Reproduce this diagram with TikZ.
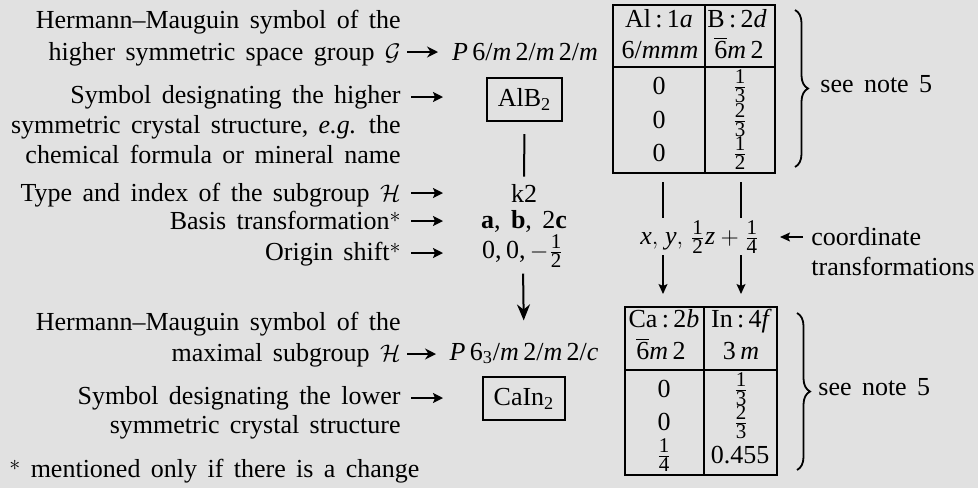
\documentclass[tikz,border=0pt]{standalone}
\usepackage{fontspec}
\setmainfont[WordSpace=1.6]{Liberation Serif}
\usetikzlibrary{arrows.meta,decorations.pathreplacing,calc}
\definecolor{bg}{RGB}{225,225,225}
\newcommand{\frd}[1]{\mbox{\fontsize{10.5}{10.5}\selectfont #1}}
\newcommand{\fr}[2]{\ensuremath{\frac{\frd{#1}}{\frd{#2}}}}
\newcommand{\sixbar}{\ensuremath{\overline{\mbox{6}}}}
\newcommand{\myast}{\raisebox{3.5pt}{\fontsize{11}{11}\selectfont$\ast$}}
\begin{document}
\begin{tikzpicture}[x=0.5pt,y=-0.5pt,
  every node/.style={inner sep=0pt, font=\fontsize{13}{15.6}\selectfont},
  lab/.style={anchor=base east},
  ctr/.style={anchor=base},
  lft/.style={anchor=base west},
  tbl/.style={line width=1pt},
  strbox/.style={draw, line width=1.1pt, minimum height=21.5pt},
  larr/.style={line width=0.8pt, -{Stealth[length=5pt,width=5pt,inset=1pt]}},
  sarr/.style={line width=0.9pt, -{Stealth[length=5.5pt,width=5.5pt]}},
  darr/.style={line width=1pt, -{Stealth[length=8pt,width=6.5pt]}},
  tarr/.style={line width=0.6pt, -{Stealth[length=5pt,width=4.5pt,inset=1pt]}},
  tline/.style={line width=0.6pt},
  brc/.style={line width=0.9pt, decorate, decoration={brace, amplitude=6.5pt}}]
\fill[bg] (0,0) rectangle (978,488);
\useasboundingbox (0,0) rectangle (978,488);

% left labels
\node[lab] (h1) at (401,28) {Hermann--Mauguin symbol of the};
\node[lab] (h2) at (401,60) {higher symmetric space group $\mathcal{G}$};
\node[lab] (s1) at (401,103) {Symbol designating the higher};
\node[lab] (s2) at (401,133) {symmetric crystal structure, \textit{e.g.} the};
\node[lab] (s3) at (401,163) {chemical formula or mineral name};
\node[lab] (ty) at (401,201) {Type and index of the subgroup $\mathcal{H}$};
\node[lab] (ba) at (401,229) {Basis transformation\myast};
\node[lab] (or) at (401,260) {Origin shift\myast};
\node[lab] (m1) at (401,330) {Hermann--Mauguin symbol of the};
\node[lab] (m2) at (401,361) {maximal subgroup $\mathcal{H}$};
\node[lab] (l1) at (401,404) {Symbol designating the lower};
\node[lab] (l2) at (401,433) {symmetric crystal structure};
\node[lft] (fn) at (9,477) {\myast{} mentioned only if there is a change};

% middle column
\node[ctr] (G) at (525,60) {\textit{P}\,6/\textit{m}\,2/\textit{m}\,2/\textit{m}};
\node[strbox, minimum width=37.5pt] (alb) at (524.5,99.5) {AlB\textsubscript{2}};
\node[ctr] (k2) at (524,202) {k2};
\node[ctr] (bt) at (524,228) {\textbf{a}, \textbf{b}, 2\textbf{c}};
\node[ctr] (os) at (523,258) {0,\,0,\,$-$\fr{1}{2}};
\node[ctr] (H) at (524,360) {\textit{P}\,6\textsubscript{3}/\textit{m}\,2/\textit{m}\,2/\textit{c}};
\node[strbox, minimum width=41pt] (cai) at (524,398.5) {CaIn\textsubscript{2}};

% left arrows
\draw[sarr] ($(h2.base east)+(6,-8)$) -- ++(31,0);
\draw[larr] ($(s1.base east)+(10,-6)$) -- ++(32,0);
\draw[larr] ($(ty.base east)+(10,-8)$) -- ++(32,0);
\draw[larr] ($(ba.base east)+(10,-8)$) -- ++(32,0);
\draw[larr] ($(or.base east)+(10,-7)$) -- ++(32,0);
\draw[sarr] ($(m2.base east)+(6,-7)$) -- ++(29,0);
\draw[larr] ($(l1.base east)+(10,-6)$) -- ++(32,0);

% middle connectors
\draw[line width=1pt, shorten <=6pt, shorten >=3.5pt] (alb.south) -- (k2.north);
\draw[darr, shorten <=3pt, shorten >=11pt] (os.south) -- (H.north);

% top table
\draw[tbl] (613,5) rectangle (775,173);
\draw[tbl] (613,67) -- (775,67);
\draw[tbl] (705,5) -- (705,173);
\node[ctr] (a1) at (659,27) {Al\,:\,1\textit{a}};
\node[ctr] (a2) at (737,27) {B\,:\,2\textit{d}};
\node[ctr] (a3) at (660,58) {6/\textit{mmm}};
\node[ctr] (a4) at (739,58) {\sixbar\textit{m}\,2};
\node (a5) at (659,86) {0};
\node (a6) at (659,120) {0};
\node (a7) at (659,153) {0};
\node (a8) at (740,86) {\fr{1}{3}};
\node (a9) at (740,120) {\fr{2}{3}};
\node (a10) at (740,153) {\fr{1}{2}};
\draw[brc] (795,10) -- (795,167);
\node[lft] (n1) at (820,92) {see note 5};

% transformation
\coordinate (ua) at (663,182);
\coordinate (ub) at (741,182);
\coordinate (va) at (663,218);
\coordinate (vb) at (741,218);
\coordinate (wa) at (663,255);
\coordinate (wb) at (741,255);
\coordinate (za) at (663,294);
\coordinate (zb) at (741,294);
\node[ctr] (tr) at (700,244) {$\mathit{x},\mskip2mu\mathit{y},\mskip2mu\fr{1}{2}\mathit{z}+\fr{1}{4}$};
\draw[tline] (ua) -- (va);
\draw[tline] (ub) -- (vb);
\draw[tarr] (wa) -- (za);
\draw[tarr] (wb) -- (zb);
\node[lft] (co) at (811,245) {coordinate};
\node[lft] (co2) at (811,275) {transformations};
\draw[tarr] ($(co.base west)+(-8,-8)$) -- ++(-23,0);

% bottom table
\draw[tbl] (625,307) rectangle (777,475);
\draw[tbl] (625,370) -- (777,370);
\draw[tbl] (704,307) -- (704,475);
\node[ctr] (b1) at (664,327) {Ca\,:\,2\textit{b}};
\node[ctr] (b2) at (741.5,327) {In\,:\,4\textit{f}};
\node[ctr] (b3) at (661,359) {\sixbar\textit{m}\,2};
\node[ctr] (b4) at (741,359) {3\,\textit{m}};
\node (b5) at (664,389) {0};
\node (b6) at (664,422) {0};
\node (b7) at (664,455) {\fr{1}{4}};
\node (b8) at (741,389) {\fr{1}{3}};
\node (b9) at (741,422) {\fr{2}{3}};
\node[ctr] (b10) at (740,463) {0.455};
\draw[brc] (797,313) -- (797,470);
\node[lft] (n2) at (818,395) {see note 5};
\end{tikzpicture}
\end{document}
